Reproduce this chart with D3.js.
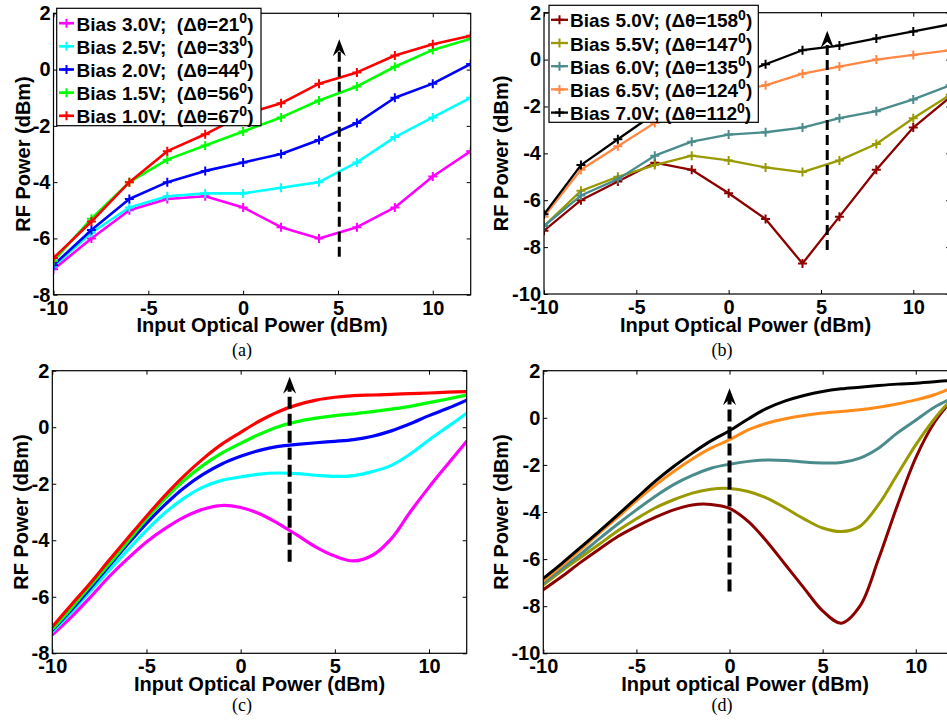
<!DOCTYPE html>
<html><head><meta charset="utf-8">
<script src="https://cdn.jsdelivr.net/npm/d3@7"></script>
<style>
body{margin:0;background:#fff}
svg{display:block}
text{font-family:"Liberation Sans",Arial,Helvetica,sans-serif}
</style>
</head><body>
<svg id="chart" width="947" height="721"></svg>
<script>
// ---------- data ----------
const xMeasured = [-10,-8,-6,-4,-2,0,2,4,6,8,10,12];
const xSimulated = [-10,-9,-8,-7,-6,-5,-4,-3,-2,-1,0,1,2,3,4,5,6,7,8,9,10,11,12];
const xTicks = [-10,-5,0,5,10];
const yTicksTop = [-8,-6,-4,-2,0,2];
const yTicksBottom = [-10,-8,-6,-4,-2,0,2];

// panel (a) measured, low bias
const biasA = ["Bias 3.0V;","Bias 2.5V;","Bias 2.0V;","Bias 1.5V;","Bias 1.0V;"];
const thetaA = ["21","33","44","56","67"];
const colorsA = ["#ff00ff","#00ffff","#0000ff","#00ff00","#ff0000"];
const measA_30 = [-7.1,-6.0,-5.0,-4.6,-4.5,-4.9,-5.6,-6.0,-5.6,-4.9,-3.8,-2.9];
const measA_25 = [-7.0,-5.8,-4.9,-4.5,-4.4,-4.4,-4.2,-4.0,-3.3,-2.4,-1.7,-1.0];
const measA_20 = [-6.95,-5.7,-4.6,-4.0,-3.6,-3.3,-3.0,-2.5,-1.9,-1.0,-0.5,0.2];
const measA_15 = [-6.8,-5.3,-4.0,-3.2,-2.7,-2.2,-1.7,-1.1,-0.6,0.1,0.7,1.1];
const measA_10 = [-6.7,-5.4,-4.0,-2.9,-2.3,-1.6,-1.2,-0.5,-0.1,0.5,0.9,1.2];

// panel (b) measured, high bias
const biasB = ["Bias 5.0V;","Bias 5.5V;","Bias 6.0V;","Bias 6.5V;","Bias 7.0V;"];
const thetaB = ["158","147","135","124","112"];
const colorsB = ["#8c0000","#999900","#4a8c8c","#ff8844","#000000"];
const colorsD = ["#8c0000","#999900","#4a8c8c","#ff8c1a","#000000"];
const measB_50 = [-7.3,-6.0,-5.2,-4.4,-4.7,-5.7,-6.8,-8.7,-6.7,-4.7,-2.9,-1.6];
const measB_55 = [-7.1,-5.6,-5.0,-4.5,-4.1,-4.3,-4.6,-4.8,-4.3,-3.6,-2.5,-1.5];
const measB_60 = [-7.1,-5.8,-5.1,-4.1,-3.5,-3.2,-3.1,-2.9,-2.5,-2.2,-1.7,-1.1];
const measB_65 = [-6.7,-4.7,-3.7,-2.7,-1.9,-1.4,-1.1,-0.6,-0.3,0.0,0.2,0.4];
const measB_70 = [-6.6,-4.5,-3.4,-2.3,-1.5,-0.8,-0.2,0.4,0.6,0.9,1.2,1.5];

// panel (c) simulated, low bias
const simC_30 = [-7.35,-6.72,-6.03,-5.3,-4.65,-4.06,-3.58,-3.18,-2.9,-2.77,-2.84,-3.06,-3.41,-3.82,-4.24,-4.56,-4.73,-4.53,-3.94,-3.0,-2.12,-1.3,-0.5];
const simC_25 = [-7.24,-6.55,-5.82,-5.08,-4.35,-3.65,-3.02,-2.51,-2.12,-1.88,-1.76,-1.66,-1.62,-1.64,-1.7,-1.74,-1.71,-1.57,-1.35,-0.95,-0.45,0.02,0.49];
const simC_20 = [-7.18,-6.47,-5.71,-4.92,-4.14,-3.4,-2.73,-2.14,-1.67,-1.3,-1.03,-0.82,-0.68,-0.61,-0.55,-0.5,-0.44,-0.32,-0.13,0.12,0.41,0.67,0.96];
const simC_15 = [-7.15,-6.41,-5.62,-4.85,-4.05,-3.25,-2.52,-1.88,-1.35,-0.92,-0.57,-0.25,0.02,0.2,0.32,0.41,0.47,0.55,0.64,0.74,0.87,1.0,1.14];
const simC_10 = [-7.06,-6.29,-5.53,-4.72,-3.93,-3.15,-2.4,-1.72,-1.12,-0.6,-0.18,0.22,0.55,0.79,0.96,1.06,1.12,1.14,1.16,1.19,1.21,1.24,1.26];

// panel (d) simulated, high bias
const simD_50 = [-7.3,-6.74,-6.14,-5.58,-5.04,-4.61,-4.23,-3.91,-3.7,-3.68,-3.85,-4.4,-5.25,-6.24,-7.23,-8.2,-8.72,-8.0,-6.0,-3.75,-1.7,-0.2,0.8];
const simD_55 = [-7.1,-6.5,-5.93,-5.37,-4.8,-4.29,-3.83,-3.48,-3.2,-3.03,-3.0,-3.13,-3.41,-3.83,-4.29,-4.68,-4.83,-4.61,-3.69,-2.42,-1.15,-0.05,0.85];
const simD_60 = [-7.02,-6.41,-5.79,-5.14,-4.51,-3.91,-3.34,-2.84,-2.45,-2.14,-1.97,-1.85,-1.79,-1.81,-1.88,-1.92,-1.9,-1.71,-1.29,-0.65,-0.1,0.45,0.85];
const simD_65 = [-6.92,-6.28,-5.6,-4.9,-4.22,-3.52,-2.87,-2.28,-1.75,-1.29,-0.93,-0.51,-0.23,-0.04,0.1,0.2,0.27,0.34,0.45,0.59,0.76,0.98,1.3];
const simD_70 = [-6.82,-6.18,-5.5,-4.82,-4.12,-3.41,-2.7,-2.07,-1.5,-0.98,-0.55,-0.05,0.4,0.72,0.95,1.12,1.23,1.3,1.37,1.43,1.47,1.53,1.6];

// arrows: [x, yStart, yTip]
const arrowA = [5.07,-6.65,1.08];
const arrowB = [5.34,-8.12,1.23];
const arrowC = [2.6,-4.76,1.79];
const arrowD = [0,-7.38,1.25];

// ---------- drawing ----------
const svg = d3.select("#chart");
svg.append("rect").attr("width",947).attr("height",721).attr("fill","#fff");

const FONT = 20;

function panel(cfg){
  const x = d3.scaleLinear().domain([-10,12]).range([cfg.left,cfg.right]);
  const y = d3.scaleLinear().domain(cfg.yDomain).range([cfg.bottom,cfg.top]);
  const g = svg.append("g");
  const clipId = "clip"+cfg.id;
  g.append("clipPath").attr("id",clipId).append("rect")
    .attr("x",cfg.left).attr("y",cfg.top)
    .attr("width",cfg.right-cfg.left).attr("height",cfg.bottom-cfg.top);

  // axes
  const fmt = d=>String(d);
  const ax = [
    g.append("g").attr("transform",`translate(0,${cfg.bottom})`)
      .call(d3.axisBottom(x).tickValues(xTicks).tickSize(-4).tickSizeOuter(0).tickPadding(6).tickFormat(fmt)),
    g.append("g").attr("transform",`translate(0,${cfg.top})`)
      .call(d3.axisTop(x).tickValues(xTicks).tickSize(-4).tickSizeOuter(0).tickFormat("")),
    g.append("g").attr("transform",`translate(${cfg.left},0)`)
      .call(d3.axisLeft(y).tickValues(cfg.yTicks).tickSize(-4).tickSizeOuter(0).tickPadding(3).tickFormat(fmt)),
    g.append("g").attr("transform",`translate(${cfg.right},0)`)
      .call(d3.axisRight(y).tickValues(cfg.yTicks).tickSize(-4).tickSizeOuter(0).tickFormat(""))
  ];
  ax.forEach(a=>{
    a.select(".domain").remove();
    a.attr("font-family",null).attr("font-size",null);
    a.selectAll("line").attr("stroke","#000").attr("stroke-width",1);
    a.selectAll("text").attr("fill","#000").style("font-size",FONT+"px").style("font-weight","bold");
  });

  // series
  const lines = g.append("g").attr("clip-path",`url(#${clipId})`);
  const curve = cfg.smooth ? d3.curveCatmullRom.alpha(0.5) : d3.curveLinear;
  cfg.series.forEach((s,i)=>{
    const pts = cfg.xs.map((xv,j)=>[xv,s[j]]);
    const line = d3.line().x(d=>x(d[0])).y(d=>y(d[1])).curve(curve);
    lines.append("path").attr("d",line(pts)).attr("fill","none")
      .attr("stroke",cfg.colors[i]).attr("stroke-width",cfg.lw)
      .attr("stroke-linejoin","round").attr("stroke-linecap","round");
    if(cfg.markers){
      lines.selectAll(null).data(pts).enter().append("path")
        .attr("d",d=>`M${x(d[0])-4.5},${y(d[1])}h9M${x(d[0])},${y(d[1])-4.5}v9`)
        .attr("stroke",cfg.colors[i]).attr("stroke-width",2).attr("fill","none");
    }
  });

  // frame
  g.append("rect").attr("x",cfg.left).attr("y",cfg.top)
    .attr("width",cfg.right-cfg.left).attr("height",cfg.bottom-cfg.top)
    .attr("fill","none").attr("stroke","#000").attr("stroke-width",1.2);

  // dashed arrow
  const [axv,ay0,ay1] = cfg.arrow;
  const ax0 = x(axv), py0 = y(ay0), py1 = y(ay1);
  g.append("line").attr("x1",ax0).attr("x2",ax0).attr("y1",py0).attr("y2",py1+10)
    .attr("stroke","#000").attr("stroke-width",cfg.aw).attr("stroke-dasharray",cfg.dash);
  g.append("path").attr("d",`M${ax0},${py1}L${ax0+6.5},${py1+17}L${ax0},${py1+11}L${ax0-6.5},${py1+17}Z`)
    .attr("fill","#000");

  // axis labels
  g.append("text").attr("x",(cfg.left+Math.min(cfg.right,947))/2+cfg.xlabDx).attr("y",cfg.bottom+37.5)
    .attr("text-anchor","middle").style("font-size",FONT+"px").style("font-weight","bold")
    .text(cfg.xLabel);
  g.append("text").attr("transform",`translate(${cfg.ylabX},${(cfg.top+cfg.bottom)/2}) rotate(-90)`)
    .attr("text-anchor","middle").style("font-size",FONT+"px").style("font-weight","bold")
    .text("RF Power (dBm)");
  g.append("text").attr("x",cfg.subX).attr("y",cfg.subY).attr("text-anchor","middle")
    .style("font-family","'Liberation Serif','Times New Roman',serif").style("font-size","18px")
    .text(cfg.sub);

  // legend
  if(cfg.legend){
    const L = cfg.legend;
    const lg = g.append("g");
    lg.append("rect").attr("x",L.x).attr("y",L.y).attr("width",L.w).attr("height",L.h)
      .attr("fill","#fff").attr("stroke","#000").attr("stroke-width",1.2);
    L.labels.forEach((lab,i)=>{
      const by = L.baseline + i*L.step;
      const my = by-7.5;
      lg.append("line").attr("x1",L.mx0).attr("x2",L.mx1).attr("y1",my).attr("y2",my)
        .attr("stroke",cfg.colors[i]).attr("stroke-width",cfg.lw);
      const cx=(L.mx0+L.mx1)/2;
      lg.append("path").attr("d",`M${cx-4.5},${my}h9M${cx},${my-4.5}v9`)
        .attr("stroke",cfg.colors[i]).attr("stroke-width",2);
      const t = lg.append("text").attr("x",L.tx).attr("y",by).attr("xml:space","preserve")
        .style("white-space","pre").style("font-size",L.fs+"px").style("font-weight","bold");
      t.append("tspan").text(lab+L.gap+"(\u0394\u03b8="+L.theta[i]);
      t.append("tspan").attr("dy",-7.5).style("font-size","14px").text("0");
      t.append("tspan").attr("dy",7.5).text(")");
    });
  }
}

panel({id:"a",left:53.5,right:470.7,top:13.3,bottom:294.7,yDomain:[-8,2],yTicks:yTicksTop,
  xs:xMeasured,series:[measA_30,measA_25,measA_20,measA_15,measA_10],colors:colorsA,
  markers:true,smooth:false,lw:2.6,arrow:arrowA,aw:3,dash:"10,5",
  xLabel:"Input Optical Power (dBm)",xlabDx:0,ylabX:30,sub:"(a)",subX:242,subY:356,
  legend:{x:56.7,y:8.3,w:204.3,h:117.4,baseline:30.7,step:23.15,mx0:59,mx1:74,tx:76.5,fs:19,
    labels:biasA,theta:thetaA,gap:"  "}});

panel({id:"b",left:544,right:950.2,top:12.7,bottom:294,yDomain:[-10,2],yTicks:yTicksBottom,
  xs:xMeasured,series:[measB_50,measB_55,measB_60,measB_65,measB_70],colors:colorsB,
  markers:true,smooth:false,lw:2.3,arrow:arrowB,aw:3,dash:"10,5",
  xLabel:"Input Optical Power (dBm)",xlabDx:0,ylabX:508,sub:"(b)",subX:722,subY:356,
  legend:{x:549,y:5.3,w:209.3,h:117,baseline:27.3,step:23.2,mx0:551,mx1:568,tx:570,fs:19,
    labels:biasB,theta:thetaB,gap:" "}});

panel({id:"c",left:52.3,right:466.7,top:370.7,bottom:653.3,yDomain:[-8,2],yTicks:yTicksTop,
  xs:xSimulated,series:[simC_30,simC_25,simC_20,simC_15,simC_10],colors:colorsA,
  markers:false,smooth:true,lw:3.2,arrow:arrowC,aw:4,dash:"12,5",
  xLabel:"Input Optical Power (dBm)",xlabDx:0,ylabX:28,sub:"(c)",subX:242,subY:711});

panel({id:"d",left:543.3,right:953,top:370.7,bottom:653.3,yDomain:[-10,2],yTicks:yTicksBottom,
  xs:xSimulated,series:[simD_50,simD_55,simD_60,simD_65,simD_70],colors:colorsD,
  markers:false,smooth:true,lw:3,arrow:arrowD,aw:4,dash:"12,5",
  xLabel:"Input optical Power (dBm)",xlabDx:0,ylabX:508,sub:"(d)",subX:722,subY:711});
</script>
</body></html>
